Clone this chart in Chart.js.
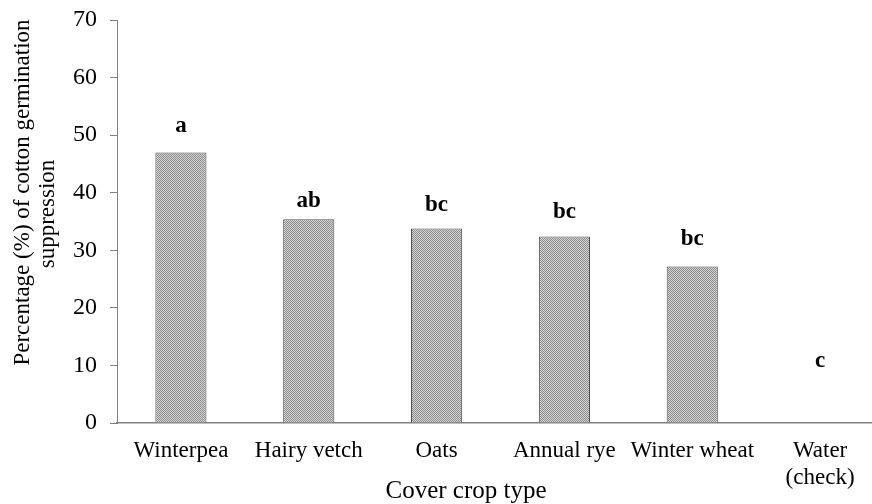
<!DOCTYPE html>
<html>
<head>
<meta charset="utf-8">
<script src="https://cdn.jsdelivr.net/npm/chart.js@4.4.1/dist/chart.umd.min.js"></script>
<style>
  html, body { margin: 0; padding: 0; background: #fff; overflow: hidden; }
  #wrap { width: 872px; height: 504px; overflow: hidden; position: relative; }
  canvas { display: block; }
</style>
</head>
<body>
<div id="wrap"><canvas id="c" width="884" height="504"></canvas></div>
<script>
// ---- data ----
const categories = ["Winterpea", "Hairy vetch", "Oats", "Annual rye", "Winter wheat", ["Water", "(check)"]];
const suppression = [47.0, 35.4, 33.8, 32.4, 27.2, 0];
const letters = ["a", "ab", "bc", "bc", "bc", "c"];
const letterHeights = [50.6, 37.6, 36.9, 35.6, 30.9, 9.8]; // baseline of each letter, in % units
const yTicks = [0, 10, 20, 30, 40, 50, 60, 70];
const xTitle = "Cover crop type";
const yTitleLines = ["Percentage (%) of cotton germination", "suppression"];

// ---- pattern fill for bars ----
function makePattern() {
  const p = document.createElement('canvas');
  p.width = 4; p.height = 4;
  const g = p.getContext('2d');
  g.fillStyle = '#d8d8d8'; g.fillRect(0, 0, 4, 4);
  g.fillStyle = '#888888';
  for (let y = 0; y < 4; y++) for (let x = 0; x < 4; x++) {
    if ((x + y) % 2 === 0) g.fillRect(x, y, 1, 1);
  }
  return g.createPattern(p, 'repeat');
}
const ctx0 = document.getElementById('c').getContext('2d');
const pattern = makePattern();

const serif = "'Liberation Serif', 'Times New Roman', serif";

const lettersPlugin = {
  id: 'letters',
  afterDatasetsDraw(chart) {
    const ctx = chart.ctx;
    const meta = chart.getDatasetMeta(0);
    const ys = chart.scales.y;
    ctx.save();
    ctx.font = "bold 23px " + serif;
    ctx.fillStyle = '#000';
    ctx.textAlign = 'center';
    ctx.textBaseline = 'alphabetic';
    meta.data.forEach((bar, i) => {
      ctx.fillText(letters[i], bar.x, ys.getPixelForValue(letterHeights[i]));
    });
    ctx.restore();
  }
};

const titlesPlugin = {
  id: 'titles',
  afterDraw(chart) {
    const ctx = chart.ctx;
    ctx.save();
    ctx.fillStyle = '#000';
    ctx.textAlign = 'center';
    ctx.font = "25px " + serif;
    ctx.textBaseline = 'alphabetic';
    ctx.fillText(xTitle, 466, 498);
    ctx.font = "23px " + serif;
    ctx.textBaseline = 'middle';
    ctx.translate(23, 192.5);
    ctx.rotate(-Math.PI / 2);
    ctx.fillText(yTitleLines[0], 0, 0);
    ctx.restore();
    ctx.save();
    ctx.fillStyle = '#000';
    ctx.textAlign = 'center';
    ctx.textBaseline = 'middle';
    ctx.font = "23px " + serif;
    ctx.translate(47.5, 214);
    ctx.rotate(-Math.PI / 2);
    ctx.fillText(yTitleLines[1], 0, 0);
    ctx.restore();
  }
};

new Chart(ctx0, {
  type: 'bar',
  data: {
    labels: categories,
    datasets: [{
      data: suppression,
      backgroundColor: pattern,
      borderColor: '#4d4d4d',
      borderWidth: 1,
      borderSkipped: 'bottom',
      barPercentage: 0.4,
      categoryPercentage: 1.0
    }]
  },
  options: {
    responsive: false,
    animation: false,
    devicePixelRatio: 1,
    layout: { padding: { top: 20, left: 0, right: 0, bottom: 0 } },
    plugins: { legend: { display: false }, tooltip: { enabled: false } },
    scales: {
      x: {
        grid: { display: false, drawTicks: false },
        border: { display: true, color: '#808080', width: 1.5 },
        ticks: {
          color: '#000',
          font: { family: serif, size: 23 },
          padding: 14,
          maxRotation: 0,
          autoSkip: false
        },
        afterFit(s) { s.height = 81; s.paddingLeft = 0; s.paddingRight = 0; }
      },
      y: {
        min: 0, max: 70,
        afterBuildTicks(s) { s.ticks = yTicks.map(v => ({ value: v })); },
        grid: { drawOnChartArea: false, drawTicks: true, tickLength: 7, color: '#808080', lineWidth: 1 },
        border: { display: true, color: '#808080', width: 1 },
        ticks: {
          color: '#000',
          font: { family: serif, size: 24 },
          padding: 13
        },
        afterFit(s) { s.width = 117; s.paddingTop = 0; s.paddingBottom = 0; }
      }
    }
  },
  plugins: [lettersPlugin, titlesPlugin]
});
</script>
</body>
</html>
